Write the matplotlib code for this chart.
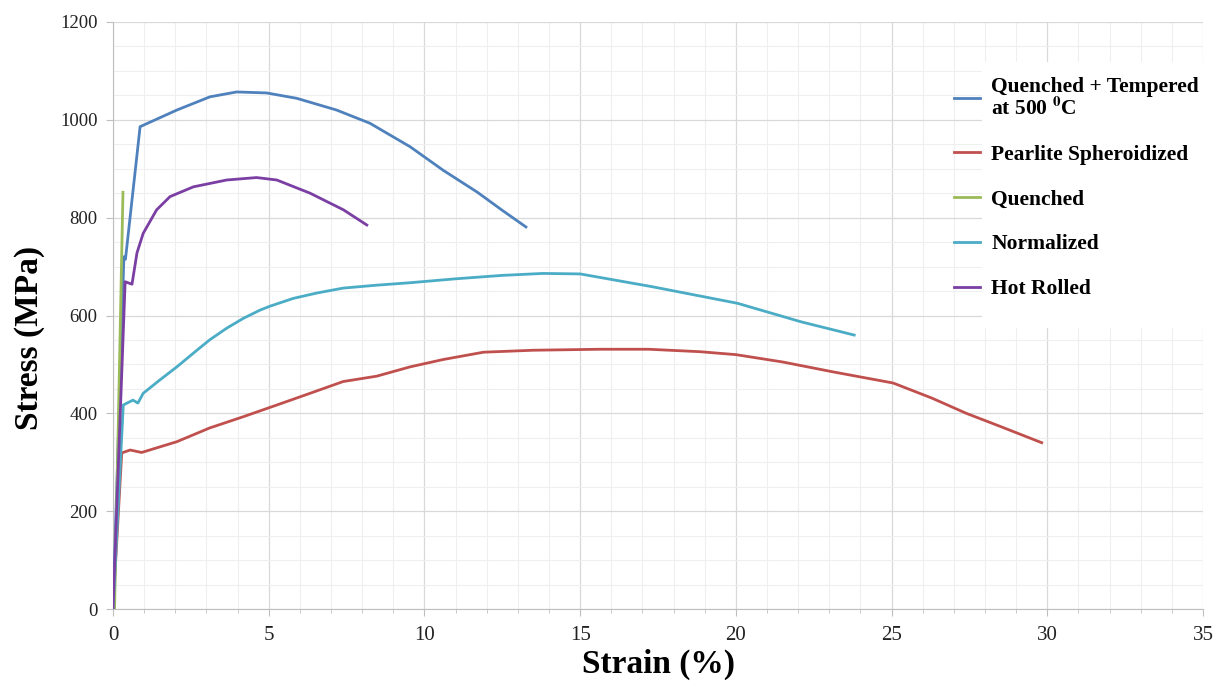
import matplotlib
matplotlib.use("Agg")
import matplotlib.pyplot as plt
import matplotlib.patches as mpatches
from matplotlib.ticker import MultipleLocator

plt.rcParams['font.family'] = ['Liberation Serif', 'DejaVu Serif']
plt.rcParams['mathtext.fontset'] = 'stix'

# strain (%) / stress (MPa)
qt_strain = [0.0, 0.35, 0.40, 0.87, 2.05, 3.11, 3.97, 4.93, 5.9, 7.18, 8.25, 9.54, 10.6, 11.7, 12.5, 13.26]
qt_stress = [0, 720, 715, 986, 1020, 1047, 1057, 1055, 1044, 1020, 993, 945, 897, 852, 815, 781]

ps_strain = [0.0, 0.28, 0.55, 0.92, 2.05, 3.1, 4.18, 5.26, 6.33, 7.39, 8.47, 9.54, 10.6, 11.9, 13.5,
             15.64, 17.2, 18.85, 20.0, 21.5, 23.1, 25.05, 26.3, 27.4, 28.5, 29.82]
ps_stress = [0, 319, 325, 320, 342, 370, 393, 417, 441, 465, 476, 495, 510, 525, 529,
             531, 531, 526, 520, 505, 485, 462, 431, 400, 373, 340]

q_strain = [0.05, 0.32]
q_stress = [0, 852]

n_strain = [0.0, 0.33, 0.64, 0.8, 0.97, 1.5, 2.05, 2.58, 3.1, 3.65, 4.18, 4.72, 5.04, 5.79, 6.55,
            7.39, 8.47, 9.54, 11.0, 12.5, 13.8, 15.0, 17.3, 20.05, 22.1, 23.8]
n_stress = [0, 417, 427, 421, 441, 468, 495, 523, 550, 574, 594, 611, 619, 635, 646,
            656, 662, 667, 675, 682, 686, 685, 659, 625, 587, 560]

hr_strain = [0.0, 0.39, 0.61, 0.77, 0.97, 1.4, 1.83, 2.58, 3.65, 4.61, 5.26, 6.33, 7.4, 8.15]
hr_stress = [0, 669, 664, 728, 768, 816, 843, 863, 877, 882, 877, 850, 816, 785]

labels = ['Quenched + Tempered\nat 500 $^{\\mathbf{0}}$C', 'Pearlite Spheroidized',
          'Quenched', 'Normalized', 'Hot Rolled']
colors = ['#4f81bd', '#c0504d', '#9bbb59', '#4bacc6', '#7b3fa3']

fig = plt.figure(figsize=(12.25, 6.88), dpi=100)
ax = fig.add_axes([113/1225, 1-609/688, 1090/1225, 587/688])

series = [(qt_strain, qt_stress), (ps_strain, ps_stress), (q_strain, q_stress),
          (n_strain, n_stress), (hr_strain, hr_stress)]
for (xs, ys), lab, c in zip(series, labels, colors):
    ax.plot(xs, ys, color=c, lw=2.0, label=lab, solid_joinstyle='round', zorder=3)

ax.set_xlim(0, 35)
ax.set_ylim(0, 1200)
ax.xaxis.set_major_locator(MultipleLocator(5))
ax.xaxis.set_minor_locator(MultipleLocator(1))
ax.yaxis.set_major_locator(MultipleLocator(200))
ax.yaxis.set_minor_locator(MultipleLocator(50))
ax.grid(which='major', color='#d9d9d9', lw=0.9, zorder=0)
ax.grid(which='minor', color='#efefef', lw=0.8, zorder=0)
ax.set_axisbelow(True)

for s in ['top', 'right']:
    ax.spines[s].set_visible(False)
for s in ['left', 'bottom']:
    ax.spines[s].set_color('#bfbfbf')
ax.tick_params(which='both', colors='#bfbfbf', labelcolor='#222222')
ax.tick_params(axis='y', which='major', length=5, labelsize=13.5, pad=6)
ax.tick_params(axis='y', which='minor', length=0)
ax.tick_params(axis='x', which='major', length=5, labelsize=15, pad=7)
ax.tick_params(axis='x', which='minor', length=3)

ax.set_xlabel('Strain (%)', fontsize=24, fontweight='bold')
ax.set_ylabel('Stress (MPa)', fontsize=24, fontweight='bold')
ax.xaxis.set_label_coords(0.5, -0.068)
ax.yaxis.set_label_coords(-0.062, 0.462)

# white area behind the legend text
ax.add_patch(mpatches.Rectangle((982/1225, 1-328/688), 240/1225, 266/688,
                                transform=fig.transFigure, facecolor='white',
                                edgecolor='none', zorder=2, clip_on=False))

leg = ax.legend(loc='upper left', bbox_to_anchor=(943/1225, 1-66/688),
                bbox_transform=fig.transFigure, frameon=False,
                prop={'size': 15.5, 'weight': 'bold'}, handlelength=1.2,
                handletextpad=0.55, labelspacing=1.15, borderpad=0)
leg.get_texts()[0].set_linespacing(1.0)
leg.set_zorder(5)

fig.savefig('out.png', dpi=100)
